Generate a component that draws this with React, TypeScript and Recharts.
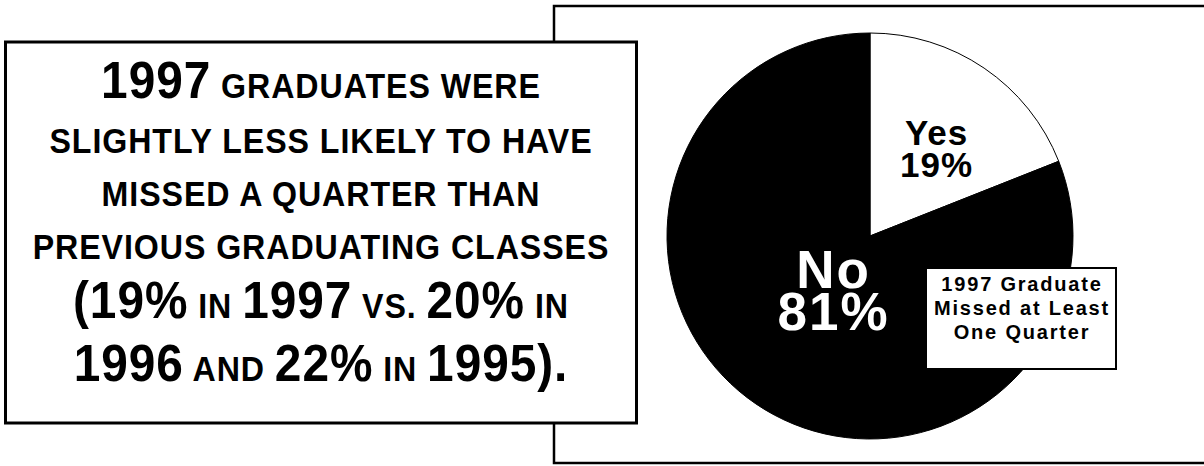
import { PieChart, Pie, Cell } from 'recharts'

const FONT = '"Liberation Sans", Arial, Helvetica, sans-serif'

const SLICE_NAMES = ['Yes', 'No']
const SLICE_VALUES = [19, 81]
const SLICE_FILLS = ['#ffffff', '#000000']
const LABEL_COLORS = ['#000000', '#ffffff']

const LEGEND_LINES = ['1997 Graduate', 'Missed at Least', 'One Quarter']

// each headline line is a list of [text, isBig] pieces
const HEADLINE_LINES: [string, boolean][][] = [
  [['1997', true], [' GRADUATES WERE', false]],
  [['SLIGHTLY LESS LIKELY TO HAVE', false]],
  [['MISSED A QUARTER THAN', false]],
  [['PREVIOUS GRADUATING CLASSES', false]],
  [['(19%', true], [' IN ', false], ['1997', true], [' VS. ', false], ['20%', true], [' IN', false]],
  [['1996', true], [' AND ', false], ['22%', true], [' IN ', false], ['1995).', true]],
]
const HEADLINE_BASELINES = [98, 153, 206, 259, 318, 381]

const RADIAN = Math.PI / 180

function renderSliceLabel(props: any) {
  const { cx, cy, midAngle, outerRadius, index } = props
  const big = index === 1
  const r = outerRadius * (big ? 0.32 : 0.54)
  const x = cx + r * Math.cos(-midAngle * RADIAN) + (big ? 0 : 5)
  const y = cy + r * Math.sin(-midAngle * RADIAN) + (big ? 0 : 3)
  const fs = big ? 53 : 35
  const gap = big ? 42 : 32
  return (
    <text
      x={x}
      y={y}
      textAnchor="middle"
      fill={LABEL_COLORS[index]}
      fontFamily={FONT}
      fontWeight="bold"
      fontSize={fs}
      letterSpacing={big ? 2 : 1}
    >
      <tspan x={x} y={y - gap / 2 + fs * 0.36}>{SLICE_NAMES[index]}</tspan>
      <tspan x={x} y={y + gap / 2 + fs * 0.36}>{SLICE_VALUES[index]}%</tspan>
    </text>
  )
}

export default function App() {
  const data = SLICE_NAMES.map((name, i) => ({ name, value: SLICE_VALUES[i] }))

  return (
    <div
      style={{
        position: 'absolute',
        left: 0,
        top: 0,
        width: 1204,
        height: 466,
        background: '#fff',
        overflow: 'hidden',
        fontFamily: FONT,
      }}
    >
      {/* frame behind the pie */}
      <svg width={1204} height={466} style={{ position: 'absolute', left: 0, top: 0 }}>
        <rect x={554} y={6} width={660} height={457} fill="#fff" stroke="#000" strokeWidth={2.5} />
      </svg>

      <div style={{ position: 'absolute', left: 0, top: 0 }}>
        <PieChart width={1204} height={466} margin={{ top: 0, right: 0, bottom: 0, left: 0 }}>
          <Pie
            data={data}
            dataKey="value"
            nameKey="name"
            cx={870}
            cy={236}
            outerRadius={203}
            startAngle={90}
            endAngle={-270}
            stroke="#000"
            strokeWidth={1}
            label={renderSliceLabel}
            labelLine={false}
            isAnimationActive={false}
          >
            {data.map((d, i) => (
              <Cell key={d.name} fill={SLICE_FILLS[i]} />
            ))}
          </Pie>
        </PieChart>
      </div>

      {/* legend / caption box */}
      <div
        style={{
          position: 'absolute',
          left: 925,
          top: 267,
          width: 192,
          height: 103,
          boxSizing: 'border-box',
          border: '2px solid #000',
          background: '#fff',
          textAlign: 'center',
          fontWeight: 'bold',
          fontSize: 20,
          letterSpacing: 1.8,
          lineHeight: '24px',
          paddingTop: 3,
          paddingLeft: 2,
          color: '#000',
          whiteSpace: 'nowrap',
        }}
      >
        {LEGEND_LINES.map((t) => (
          <div key={t}>{t}</div>
        ))}
      </div>

      {/* headline box on the left */}
      <svg width={1204} height={466} style={{ position: 'absolute', left: 0, top: 0 }}>
        <rect x={5.5} y={42} width={631} height={381} fill="#fff" stroke="#000" strokeWidth={3} />
        {HEADLINE_LINES.map((pieces, i) => (
          <text
            key={i}
            transform={`translate(321 ${HEADLINE_BASELINES[i]}) scale(0.92 1)`}
            textAnchor="middle"
            fontFamily={FONT}
            fontWeight="bold"
            fontSize={35}
            letterSpacing={1}
            fill="#000"
            style={{ whiteSpace: 'pre' }}
          >
            {pieces.map(([t, big], j) => (
              <tspan key={j} fontSize={big ? 52 : 35}>
                {t}
              </tspan>
            ))}
          </text>
        ))}
      </svg>
    </div>
  )
}
